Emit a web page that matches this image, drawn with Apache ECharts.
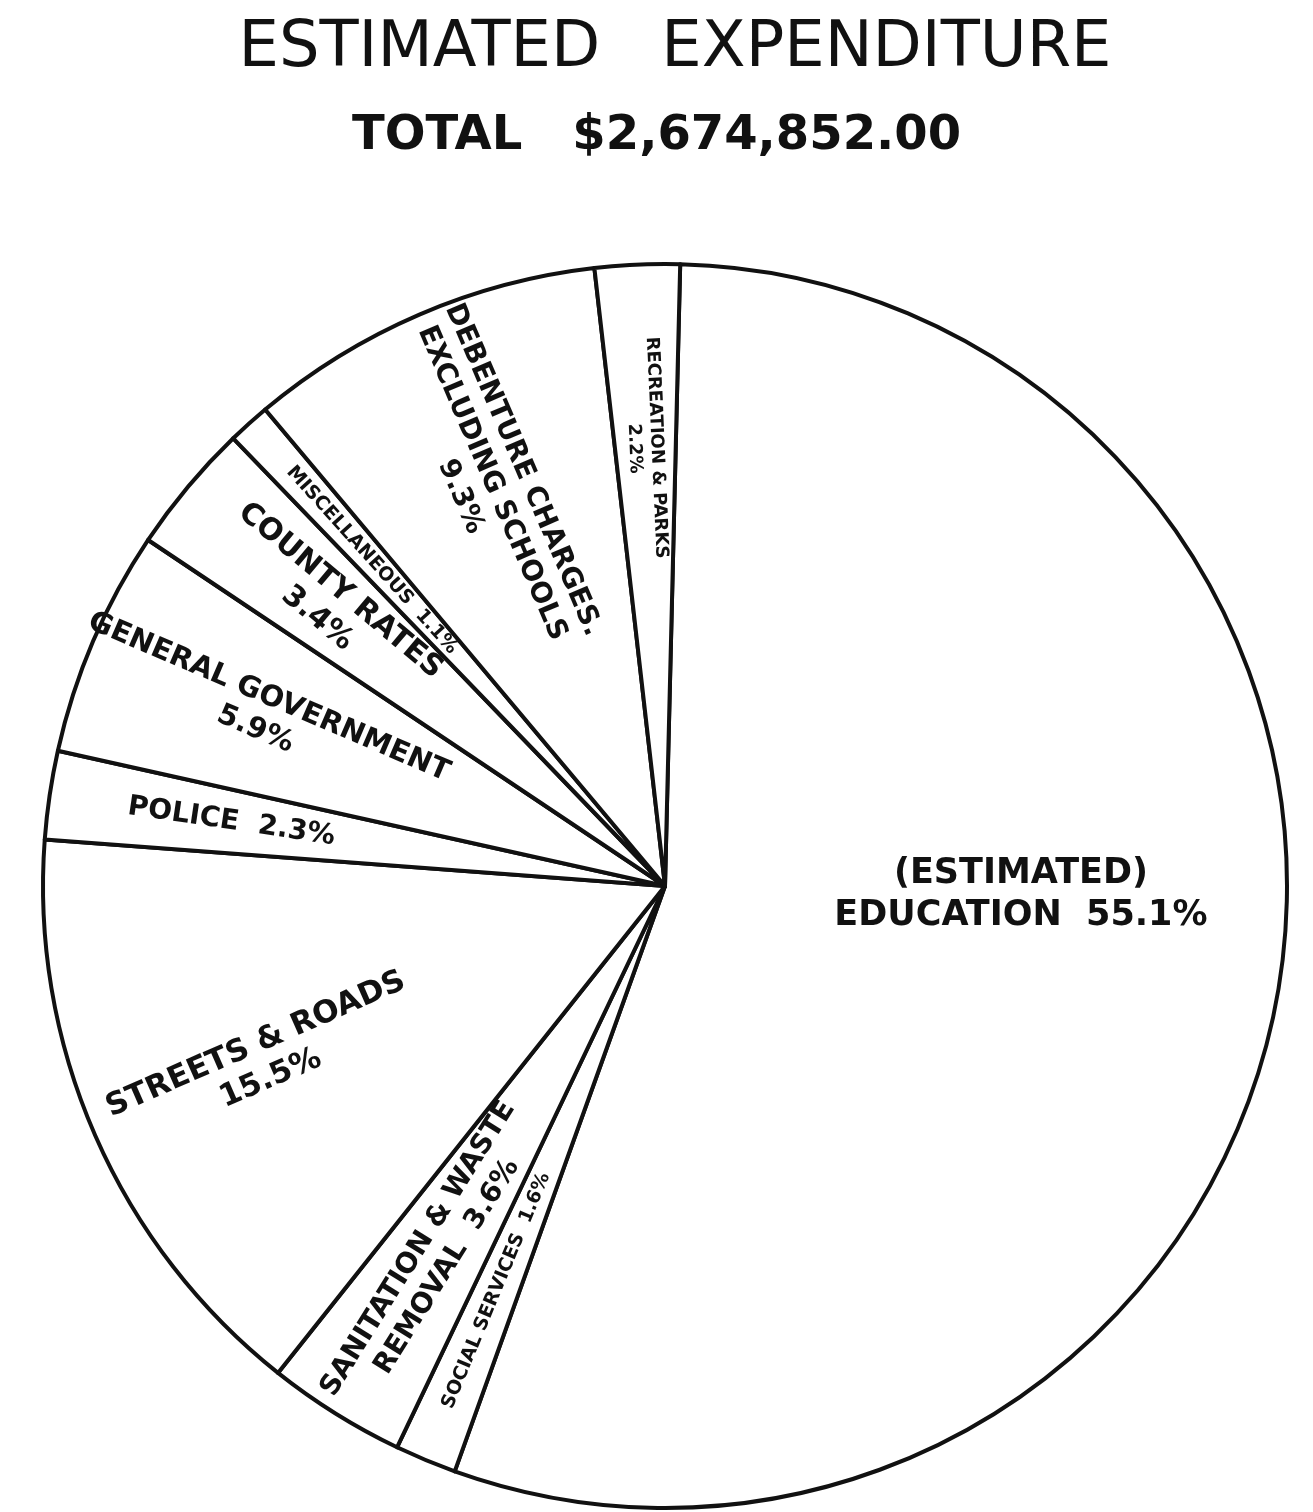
<!DOCTYPE html>
<html>
<head>
<meta charset="utf-8">
<script src="https://cdn.jsdelivr.net/npm/echarts@6/dist/echarts.min.js"></script>
<style>
  html, body { margin: 0; padding: 0; background: #fff; }
  #chart { width: 1313px; height: 1512px; }
</style>
</head>
<body>
<div id="chart"></div>
<script>
// slices, clockwise from the top
var categories = ['Education', 'Social Services', 'Sanitation & Waste Removal', 'Streets & Roads',
  'Police', 'General Government', 'County Rates', 'Miscellaneous', 'Debenture Charges', 'Recreation & Parks'];
var values = [55.1, 1.6, 3.6, 15.5, 2.3, 5.9, 3.4, 1.1, 9.3, 2.2];
var labelTexts = [
  '(ESTIMATED)\nEDUCATION  55.1%',
  'SOCIAL SERVICES  1.6%',
  'SANITATION & WASTE\nREMOVAL  3.6%',
  'STREETS & ROADS\n15.5%',
  'POLICE  2.3%',
  'GENERAL GOVERNMENT\n5.9%',
  'COUNTY RATES\n3.4%',
  'MISCELLANEOUS  1.1%',
  'DEBENTURE CHARGES.\nEXCLUDING SCHOOLS\n9.3%',
  'RECREATION & PARKS\n2.2%'
];
var labelSizes = [35, 19, 28, 31, 28, 29, 30, 19, 28, 18];

var font = '"DejaVu Sans", sans-serif';
var cx = 665, cy = 886, r = 622;

var pieData = categories.map(function (c, i) {
  return { name: c, value: values[i] };
});
var labelData = categories.map(function (c, i) {
  var item = {
    name: c,
    value: values[i],
    label: {
      formatter: labelTexts[i],
      fontSize: labelSizes[i],
      lineHeight: Math.round(labelSizes[i] * 1.2)
    }
  };
  if (i === 0) {
    // education label sits level with the centre in the original
    item.label.rotate = 0;
    item.label.offset = [-75, -72];
  }
  return item;
});

var chart = echarts.init(document.getElementById('chart'));
chart.setOption({
  backgroundColor: '#fff',
  animation: false,
  title: [
    {
      text: 'ESTIMATED   EXPENDITURE',
      left: 670,
      textAlign: 'center',
      top: 12,
      textStyle: { fontFamily: font, fontSize: 64, fontWeight: 'normal', color: '#111' }
    },
    {
      text: 'TOTAL   $2,674,852.00',
      left: 'center',
      top: 108,
      textStyle: { fontFamily: font, fontSize: 48, fontWeight: 'bold', color: '#111' }
    }
  ],
  series: [
    {
      type: 'pie',
      center: [cx, cy],
      radius: [0, r],
      startAngle: 88.6,
      clockwise: true,
      silent: true,
      label: { show: false },
      labelLine: { show: false },
      itemStyle: { color: '#fff', borderColor: '#111', borderWidth: 4 },
      emphasis: { disabled: true },
      data: pieData
    },
    {
      // transparent copy, only used to place the labels further out
      type: 'pie',
      center: [cx, cy],
      radius: [0, r * 1.4],
      startAngle: 88.6,
      clockwise: true,
      silent: true,
      avoidLabelOverlap: false,
      labelLayout: { hideOverlap: false },
      z: 3,
      itemStyle: { color: 'rgba(0,0,0,0)', borderWidth: 0 },
      emphasis: { disabled: true },
      labelLine: { show: false },
      label: {
        show: true,
        position: 'inside',
        rotate: 'radial',
        fontFamily: font,
        fontWeight: 'bold',
        color: '#111',
        align: 'center'
      },
      data: labelData
    }
  ]
});
</script>
</body>
</html>
